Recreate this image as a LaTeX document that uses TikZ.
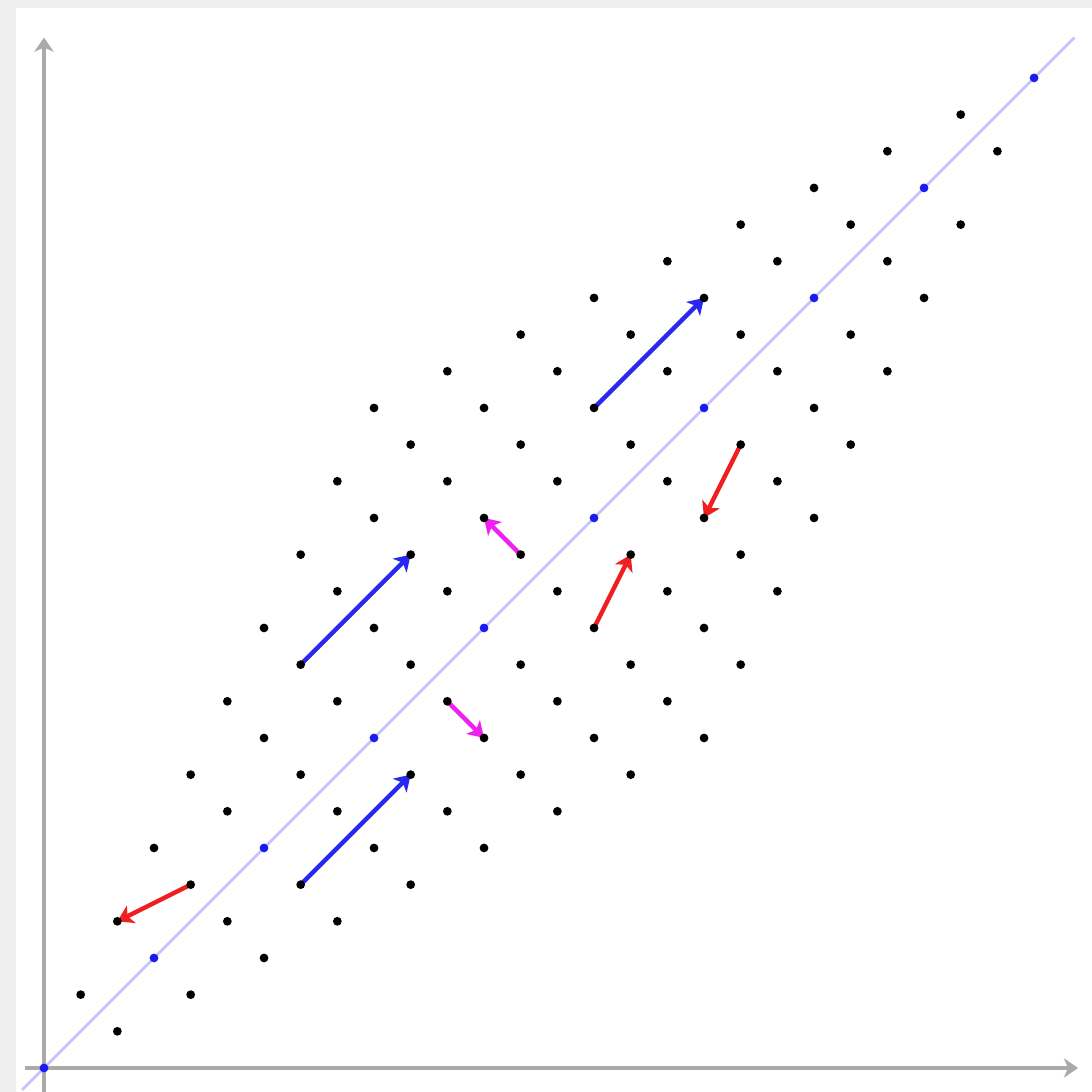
\documentclass[tikz,border=0pt]{standalone}
\usepackage{tikz}
\usetikzlibrary{arrows.meta}
\definecolor{axisgray}{HTML}{AAAAAA}
\definecolor{framegray}{HTML}{EFEFEF}
\definecolor{diagline}{HTML}{C4C4FA}
\definecolor{latblue}{HTML}{1A1AF5}
\definecolor{shiftblue}{HTML}{2828F0}
\definecolor{flipred}{HTML}{F01E1E}
\definecolor{swapmag}{HTML}{F020F0}
\tikzset{
  latdot/.style={circle, fill=black, inner sep=0pt, minimum size=3.4pt},
  axisline/.style={-{Stealth[length=5.5pt, width=7.5pt, inset=1.6pt]}, line width=1.3pt, axisgray},
  moveline/.style={-{Stealth[length=6pt, width=7.5pt, inset=1.6pt]}, line width=1.7pt},
  shiftmove/.style={moveline, shiftblue},
  flipmove/.style={moveline, flipred},
  swapmove/.style={moveline, swapmag},
}

\begin{document}
\begin{tikzpicture}[x=0.5cm, y=0.5cm]
    % frame
    \fill[framegray] (-1.2, -0.655) rectangle (28.58, 29.125);
    \fill[white] (-0.764, -0.655) rectangle (28.58, 28.9);
    \useasboundingbox (-1.2, -0.655) rectangle (28.58, 29.125);
    % axes and diagonal
    \coordinate (xs) at (-0.52, 0);
    \coordinate (xe) at (28.2, 0);
    \coordinate (ys) at (0, -0.65);
    \coordinate (ye) at (0, 28.1);
    \coordinate (ds) at (-0.6, -0.6);
    \coordinate (de) at (28.1, 28.1);
    \draw[axisline] (xs) -- (xe);
    \draw[axisline] (ys) -- (ye);
    \draw[diagline, line width=1pt] (ds) -- (de);
    % lattice positions
    \foreach \i in {0,...,9}
      \foreach \j in {0,...,9}
        \coordinate (p\i\j) at ({\i+2*\j}, {2*\i+\j});
    % moves
    \draw[shiftmove] (p74) -- (p85);
    \draw[shiftmove] (p51) -- (p62);
    \draw[shiftmove] (p13) -- (p24);
    \draw[flipmove] (p21) -- (p20);
    \draw[flipmove] (p36) -- (p46);
    \draw[flipmove] (p57) -- (p47);
    \draw[swapmove] (p54) -- (p63);
    \draw[swapmove] (p34) -- (p25);
    % lattice points
    \foreach \i in {0,...,9}
      \foreach \j in {0,...,9} {
        \ifnum\i=\j \def\dotcol{latblue}\else\def\dotcol{black}\fi
        \node[latdot, fill=\dotcol] (d\i\j) at (p\i\j) {};
      }
\end{tikzpicture}
\end{document}
